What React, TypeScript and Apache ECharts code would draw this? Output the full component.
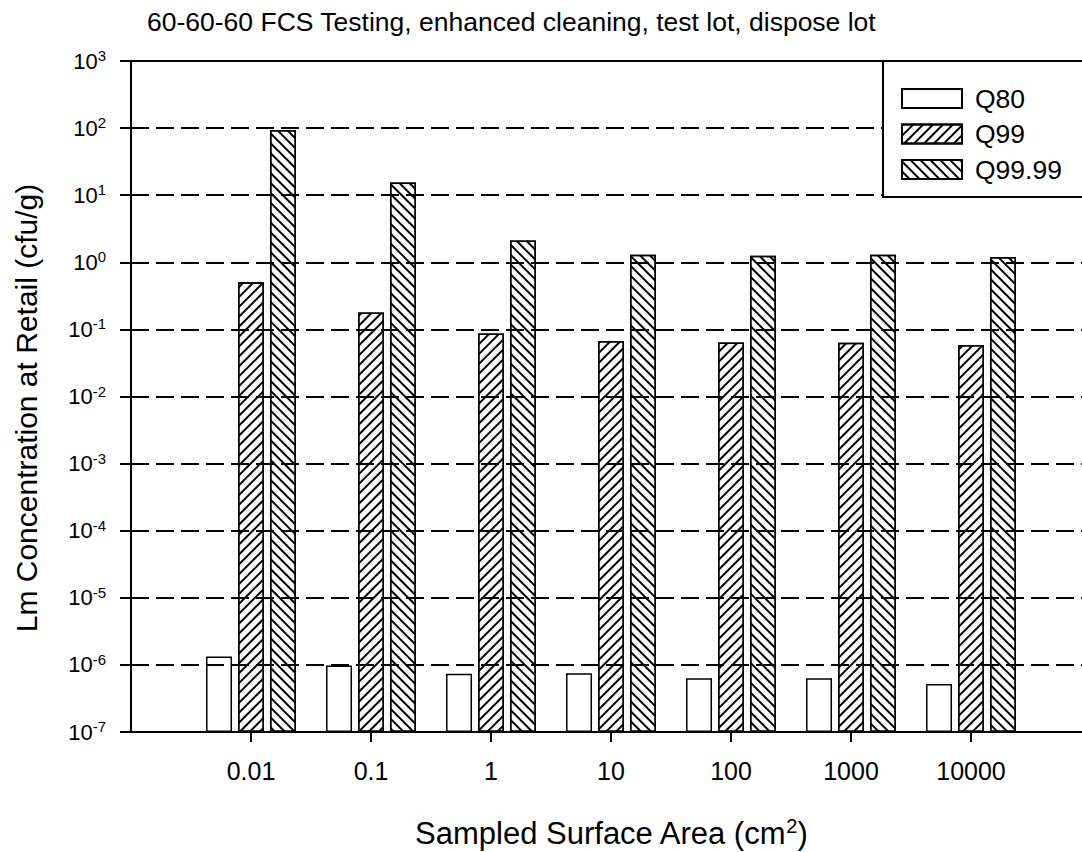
import React, { useEffect, useRef } from 'react';
import * as echarts from 'echarts';

const categories = ['0.01', '0.1', '1', '10', '100', '1000', '10000'];
const seriesNames = ['Q80', 'Q99', 'Q99.99'];
const q80 = [1.33e-6, 0.98e-6, 0.74e-6, 0.75e-6, 0.63e-6, 0.63e-6, 0.52e-6];
const q99 = [0.505, 0.179, 0.087, 0.067, 0.064, 0.0634, 0.0585];
const q9999 = [94, 15.4, 2.12, 1.3, 1.25, 1.3, 1.2];
const yMin = 1e-7;
const yMax = 1e3;

const titleText = '60-60-60 FCS Testing, enhanced cleaning, test lot, dispose lot';
const yTitle = 'Lm Concentration at Retail (cfu/g)';
const xTitleMain = 'Sampled Surface Area (cm';
const xTitleSup = '2';

const FONT = '"Liberation Sans", Arial, Helvetica, sans-serif';

export default function App() {
  const ref = useRef<HTMLDivElement>(null);
  useEffect(() => {
    document.body.style.margin = '0';
    const chart = echarts.init(ref.current as HTMLDivElement, null, { renderer: 'svg' });
    const cats = ['', ...categories, ''];
    const pad = (a: number[]) => ['-', ...a, '-'];
    const hatch = (rot: number) => ({
      symbol: 'rect',
      symbolSize: 1,
      dashArrayX: [1, 0],
      dashArrayY: [1.3, 4.4],
      rotation: rot,
      color: '#000',
      backgroundColor: '#fff',
    });
    const barBase = {
      type: 'bar',
      barWidth: 26,
      barGap: '23%',
      z: 2,
      silent: true,
    };
    const option: any = {
      animation: false,
      backgroundColor: '#fff',
      textStyle: { fontFamily: FONT, color: '#000' },
      grid: {
        left: 131,
        top: 61,
        width: 960,
        height: 671,
        show: true,
        borderColor: '#000',
        borderWidth: 2,
        backgroundColor: 'transparent',
        outerBoundsMode: 'none',
        containLabel: false,
      },
      legend: {
        data: seriesNames,
        orient: 'vertical',
        left: 883,
        top: 61,
        icon: 'rect',
        itemWidth: 60,
        itemHeight: 19,
        itemGap: 8.5,
        padding: [24, 22, 14, 18],
        backgroundColor: '#fff',
        borderColor: '#000',
        borderWidth: 2,
        borderRadius: 0,
        selectedMode: false,
        z: 10,
        textStyle: { fontSize: 26.5, fontFamily: FONT, color: '#000', padding: [0, 0, 0, 8] },
      },
      xAxis: {
        type: 'category',
        data: cats,
        boundaryGap: false,
        z: 3,
        axisLine: { show: true, lineStyle: { color: '#000', width: 2 } },
        axisTick: {
          show: true,
          length: 10,
          interval: (i: number) => i > 0 && i < cats.length - 1,
          lineStyle: { color: '#000', width: 2 },
        },
        axisLabel: { interval: 0, fontSize: 25, color: '#000', fontFamily: FONT, margin: 26 },
        splitLine: { show: false },
      },
      yAxis: {
        type: 'log',
        logBase: 10,
        min: yMin,
        max: yMax,
        interval: 1,
        startValue: yMin,
        z: 3,
        axisLine: { show: true, lineStyle: { color: '#000', width: 2 } },
        axisTick: { show: true, length: 11, lineStyle: { color: '#000', width: 2 } },
        axisLabel: {
          margin: 25,
          color: '#000',
          formatter: (v: number) => {
            const e = Math.round(Math.log10(v));
            return '{b|10}{s|' + e + '}';
          },
          rich: {
            b: { fontSize: 22, fontFamily: FONT, color: '#000', lineHeight: 26 },
            s: { fontSize: 15, fontFamily: FONT, color: '#000', lineHeight: 20, verticalAlign: 'top' },
          },
        },
        splitLine: { show: true, lineStyle: { color: '#000', width: 2, type: [18, 7] } },
      },
      series: [
        {
          ...barBase,
          name: seriesNames[0],
          data: pad(q80),
          itemStyle: { color: '#fff', borderColor: '#000', borderWidth: 1.5 },
        },
        {
          ...barBase,
          name: seriesNames[1],
          data: pad(q99),
          itemStyle: { color: '#fff', borderColor: '#000', borderWidth: 1.5, decal: hatch(-Math.PI / 4) },
        },
        {
          ...barBase,
          name: seriesNames[2],
          data: pad(q9999),
          itemStyle: { color: '#fff', borderColor: '#000', borderWidth: 1.5, decal: hatch(Math.PI / 4) },
        },
      ],
      graphic: [
        {
          type: 'text',
          x: 147,
          y: 22,
          style: { text: titleText, fontSize: 26.5, fontFamily: FONT, fill: '#000', align: 'left', verticalAlign: 'middle' },
        },
        {
          type: 'text',
          x: 26,
          y: 408,
          rotation: Math.PI / 2,
          style: { text: yTitle, fontSize: 30, fontFamily: FONT, fill: '#000', align: 'center', verticalAlign: 'middle' },
        },
        {
          type: 'text',
          x: 611,
          y: 833,
          style: {
            text: '{a|' + xTitleMain + '}{s|' + xTitleSup + '}{a|)}',
            align: 'center',
            verticalAlign: 'middle',
            rich: {
              a: { fontSize: 31, fontFamily: FONT, fill: '#000', lineHeight: 34 },
              s: { fontSize: 20, fontFamily: FONT, fill: '#000', lineHeight: 18, verticalAlign: 'top' },
            },
          },
        },
      ],
    };
    chart.setOption(option);
    return () => chart.dispose();
  }, []);
  return <div ref={ref} style={{ width: 1082, height: 852 }} />;
}
